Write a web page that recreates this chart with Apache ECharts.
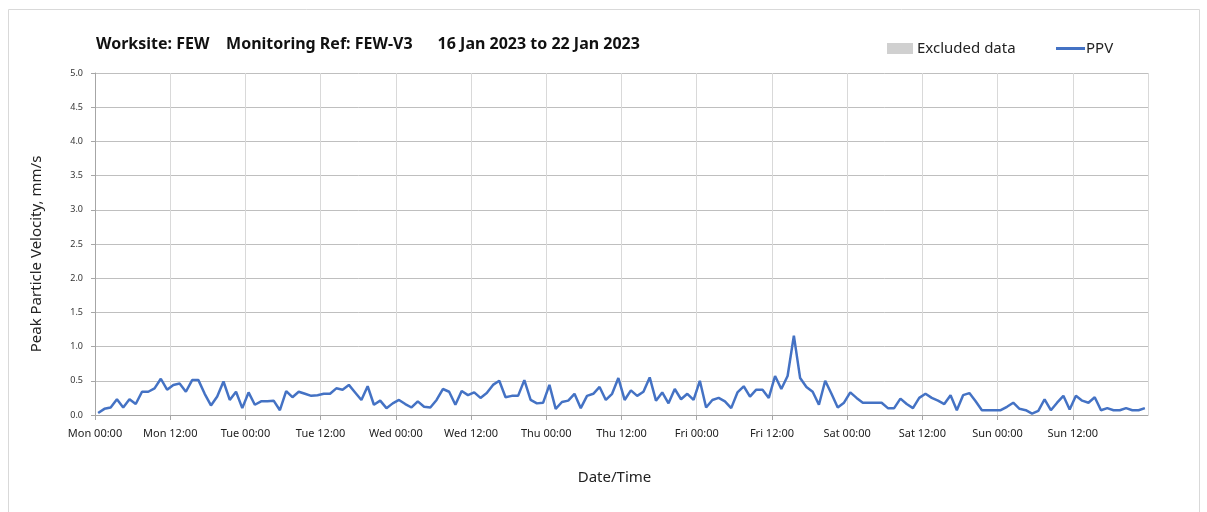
<!DOCTYPE html>
<html lang="en">
<head>
	<meta charset="UTF-8">
	<title>PPV FEW-V3</title>
	<style>
		body, div {
			margin: 0;
			padding: 0;
		}
		#main {
			width: 1207px;
			height: 512px;
			background: #fff;
		}
	</style>
</head>
<body>
	<div id="main"></div>

	<script src="https://cdn.jsdelivr.net/npm/echarts@6/dist/echarts.min.js"></script>

	<script>
	// hourly PPV readings, one array per day (mm/s)
	var monValues = [0.03, 0.09, 0.11, 0.23, 0.11, 0.23, 0.16, 0.34, 0.34, 0.39, 0.53, 0.37, 0.44, 0.46, 0.34, 0.51, 0.51, 0.31, 0.14, 0.27, 0.49, 0.22, 0.34, 0.10];
	var tueValues = [0.33, 0.15, 0.20, 0.20, 0.21, 0.07, 0.35, 0.26, 0.34, 0.31, 0.28, 0.29, 0.31, 0.31, 0.39, 0.37, 0.44, 0.33, 0.22, 0.42, 0.15, 0.21, 0.10, 0.17];
	var wedValues = [0.22, 0.16, 0.11, 0.20, 0.12, 0.11, 0.22, 0.38, 0.34, 0.15, 0.35, 0.29, 0.33, 0.25, 0.32, 0.44, 0.50, 0.26, 0.28, 0.28, 0.51, 0.22, 0.17, 0.18];
	var thuValues = [0.44, 0.09, 0.19, 0.21, 0.31, 0.10, 0.28, 0.31, 0.41, 0.22, 0.31, 0.54, 0.22, 0.36, 0.28, 0.34, 0.55, 0.21, 0.33, 0.17, 0.38, 0.23, 0.31, 0.22];
	var friValues = [0.50, 0.11, 0.22, 0.25, 0.20, 0.10, 0.33, 0.42, 0.27, 0.37, 0.37, 0.25, 0.57, 0.38, 0.57, 1.16, 0.54, 0.41, 0.34, 0.15, 0.50, 0.31, 0.11, 0.18];
	var satValues = [0.33, 0.25, 0.18, 0.18, 0.18, 0.18, 0.10, 0.10, 0.24, 0.16, 0.10, 0.25, 0.31, 0.25, 0.21, 0.16, 0.29, 0.07, 0.29, 0.32, 0.20, 0.07, 0.07, 0.07];
	var sunValues = [0.07, 0.12, 0.18, 0.09, 0.07, 0.02, 0.06, 0.23, 0.07, 0.18, 0.28, 0.08, 0.28, 0.21, 0.18, 0.26, 0.07, 0.10, 0.07, 0.07, 0.10, 0.07, 0.07, 0.10];

	// x tick labels, every 12 hours
	var xTickLabels = ['Mon 00:00', 'Mon 12:00', 'Tue 00:00', 'Tue 12:00', 'Wed 00:00', 'Wed 12:00',
		'Thu 00:00', 'Thu 12:00', 'Fri 00:00', 'Fri 12:00', 'Sat 00:00', 'Sat 12:00', 'Sun 00:00', 'Sun 12:00'];

	var ppv = [].concat(monValues, tueValues, wedValues, thuValues, friValues, satValues, sunValues);
	// each reading sits in the middle of its hour
	var ppvData = ppv.map(function(v, i) { return [i + 0.5, v]; });

	var myEcharts = echarts.init(document.getElementById('main'));

	var txtFont = 'Noto Sans';

	var option = {
		animation: false,
		graphic: [{
			type: 'rect',
			shape: {x: 8.5, y: 9.5, width: 1191, height: 520},
			style: {fill: 'none', stroke: '#d9d9d9', lineWidth: 1},
			silent: true
		}],
		title: {
			text: 'Worksite: FEW    Monitoring Ref: FEW-V3      16 Jan 2023 to 22 Jan 2023',
			left: 91,
			top: 31,
			textStyle: {
				fontFamily: txtFont,
				fontWeight: 'bold',
				fontSize: 16,
				color: '#111'
			}
		},
		legend: [{
			data: ['Excluded data'],
			left: 882,
			top: 36,
			itemWidth: 26,
			itemHeight: 11,
			itemGap: 4,
			icon: 'rect',
			textStyle: {fontFamily: txtFont, fontSize: 15, color: '#222', padding: [0, 0, 0, -1]}
		}, {
			data: ['PPV'],
			left: 1051,
			top: 36,
			itemWidth: 29,
			itemHeight: 3,
			icon: 'rect',
			textStyle: {fontFamily: txtFont, fontSize: 15, color: '#222', padding: [0, 0, 0, -4]}
		}],
		grid: {
			left: 95,
			right: 59,
			top: 73,
			bottom: 97
		},
		xAxis: {
			type: 'value',
			min: 0,
			max: 168,
			interval: 12,
			name: 'Date/Time',
			nameLocation: 'middle',
			nameGap: 55,
			nameTextStyle: {fontFamily: txtFont, fontSize: 15, color: '#222', padding: [0, 14, 0, 0]},
			axisLine: {show: true, lineStyle: {color: '#a6a6a6', width: 1}},
			axisTick: {show: true, length: 5, lineStyle: {color: '#a6a6a6'}},
			axisLabel: {
				showMaxLabel: false,
				fontFamily: txtFont,
				fontSize: 11,
				color: '#222',
				margin: 13,
				formatter: function(v) {
					return xTickLabels[Math.round(v / 12)] || '';
				}
			},
			splitLine: {show: true, lineStyle: {color: '#d9d9d9', width: 1}}
		},
		yAxis: {
			type: 'value',
			min: 0,
			max: 5,
			interval: 0.5,
			name: 'Peak Particle Velocity, mm/s',
			nameLocation: 'middle',
			nameGap: 51,
			nameTextStyle: {fontFamily: txtFont, fontSize: 15, color: '#222', padding: [0, 20, 0, 0]},
			axisLine: {show: true, lineStyle: {color: '#a6a6a6', width: 1}},
			axisTick: {show: true, length: 4, lineStyle: {color: '#a6a6a6'}},
			axisLabel: {
				fontFamily: txtFont,
				fontSize: 9,
				color: '#333',
				margin: 12,
				formatter: function(v) { return v.toFixed(1); }
			},
			splitLine: {show: true, lineStyle: {color: '#bfbfbf', width: 1}}
		},
		series: [{
			name: 'Excluded data',
			type: 'bar',
			data: [],
			itemStyle: {color: '#d0d0d0'}
		}, {
			name: 'PPV',
			type: 'line',
			data: ppvData,
			showSymbol: false,
			symbol: 'none',
			itemStyle: {color: '#4472c4'},
			lineStyle: {color: '#4472c4', width: 2.5}
		}]
	};

	myEcharts.setOption(option);
	</script>

</body>
</html>
